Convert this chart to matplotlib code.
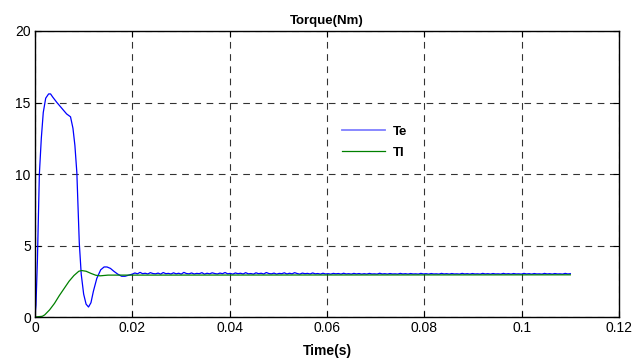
import numpy as np
import matplotlib.pyplot as plt

plt.rcParams['font.family'] = ['Liberation Sans', 'DejaVu Sans']

# electromagnetic torque Te (start-up transient)
t_te = [0, 0.0002, 0.0005, 0.0009, 0.0013, 0.0017, 0.0022, 0.0028, 0.0032, 0.0036,
        0.0045, 0.0055, 0.0065, 0.0073, 0.0078, 0.0082, 0.0086, 0.0091, 0.0095, 0.0100,
        0.0105, 0.0110, 0.0115, 0.0120, 0.0127, 0.0135, 0.0142, 0.0148, 0.0155, 0.0162,
        0.0170, 0.0178, 0.0185, 0.0195]
te = [0, 0.8, 4.0, 10.0, 12.5, 14.3, 15.3, 15.6, 15.6, 15.4,
      15.0, 14.6, 14.2, 14.0, 13.2, 12.0, 10.1, 5.2, 3.0, 1.6,
      0.9, 0.7, 1.0, 1.8, 2.7, 3.3, 3.5, 3.5, 3.4, 3.2,
      3.0, 2.85, 2.85, 2.95]

# steady-state ripple of Te, 0.02 .. 0.11 s
te_ripple = [3.00, 3.08, 3.02, 3.12, 3.03, 3.06, 3.01, 3.10, 3.04, 3.02,
             3.07, 3.00, 3.11, 3.03, 3.05, 3.01, 3.09, 3.02, 3.06, 3.00,
             3.12, 3.04, 3.02, 3.08, 3.01, 3.05, 3.03, 3.10, 3.00, 3.06,
             3.02, 3.09, 3.04, 3.01, 3.07, 3.03, 3.11, 3.02, 3.05, 3.00,
             3.08, 3.03, 3.06, 3.01, 3.10, 3.02, 3.04, 3.00, 3.09, 3.03,
             3.06, 3.01, 3.11, 3.04, 3.02, 3.07, 3.00, 3.05, 3.03, 3.09,
             3.01, 3.06, 3.02, 3.10, 3.04, 3.00, 3.07, 3.03, 3.05, 3.01,
             3.08, 3.02, 3.04, 3.00, 3.06, 3.01, 3.03, 3.00, 3.05, 3.02,
             3.04, 3.00, 3.06, 3.01, 3.03, 3.00, 3.05, 3.01, 3.04, 3.00,
             3.03, 3.00, 3.05, 3.01, 3.02, 3.00, 3.06, 3.01, 3.03, 3.00,
             3.04, 3.01, 3.02, 3.00, 3.05, 3.01, 3.03, 3.00, 3.04, 3.01,
             3.02, 3.00, 3.05, 3.01, 3.03, 3.00, 3.04, 3.01, 3.02, 3.00,
             3.05, 3.01, 3.03, 3.00, 3.04, 3.01, 3.02, 3.00, 3.05, 3.01,
             3.03, 3.00, 3.04, 3.01, 3.02, 3.00, 3.05, 3.01, 3.03, 3.00,
             3.04, 3.01, 3.02, 3.00, 3.05, 3.01, 3.03, 3.00, 3.04, 3.01,
             3.02, 3.00, 3.05, 3.01, 3.03, 3.00, 3.04, 3.01, 3.02, 3.00,
             3.05, 3.01, 3.03, 3.00, 3.04, 3.01, 3.02, 3.00, 3.05, 3.01,
             3.03]
t_ripple = np.linspace(0.02, 0.11, len(te_ripple))

# load torque Tl
t_tl = [0, 0.0015, 0.002, 0.003, 0.004, 0.005, 0.006, 0.007, 0.008, 0.009,
        0.0096, 0.0105, 0.0115, 0.0125, 0.0134, 0.015, 0.11]
tl = [0, 0.05, 0.15, 0.5, 0.95, 1.5, 2.0, 2.5, 2.9, 3.2,
      3.25, 3.2, 3.05, 2.92, 2.88, 2.93, 2.95]

t_all = np.concatenate([t_te, t_ripple])
te_all = np.concatenate([te, te_ripple])

fig = plt.figure(figsize=(6.35, 3.6), dpi=100)
ax = fig.add_axes([0.0551, 0.1194, 0.9197, 0.7945])

ax.plot(t_all, te_all, color='#0000ff', lw=0.9, label='Te')
ax.plot(t_tl, tl, color='#008000', lw=0.9, label='Tl')

ax.set_xlim(0, 0.12)
ax.set_ylim(0, 20)
ax.set_xticks([0, 0.02, 0.04, 0.06, 0.08, 0.1, 0.12])
ax.set_xticklabels(['0', '0.02', '0.04', '0.06', '0.08', '0.1', '0.12'])
ax.set_yticks([0, 5, 10, 15, 20])
ax.tick_params(direction='in', labelsize=10, length=4, width=0.8, top=True, right=True, pad=3)
ax.grid(True, color='black', ls=(0, (6, 5)), lw=0.8, alpha=0.8)
for s in ax.spines.values():
    s.set_linewidth(1.0)

ax.set_title('Torque(Nm)', fontsize=9.5, fontweight='bold', pad=5)
ax.set_xlabel('Time(s)', fontsize=10, fontweight='bold', labelpad=6)

leg = ax.legend(loc='center left', bbox_to_anchor=(0.505, 0.611), frameon=False,
                prop={'weight': 'bold', 'size': 9.5}, handlelength=3.3,
                labelspacing=0.65, handletextpad=0.55)
leg.get_lines()[0].set_color('#7f7fff')
leg.get_lines()[0].set_linewidth(1.3)

plt.savefig('out.png', dpi=100)
